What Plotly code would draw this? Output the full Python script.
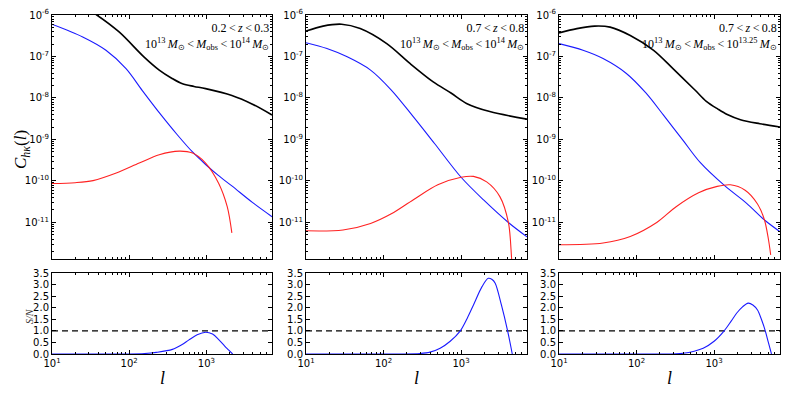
import plotly.graph_objects as go

# ---------------- data ----------------
# Panel 1: 0.2<z<0.3, 1e13<M<1e14
p1_black_l = [25, 38, 74, 155, 245, 355, 490, 692, 977, 2140, 3890, 7080]
p1_black_c = [1.6e-6, 1.0e-6, 3.9e-7, 9.8e-8, 4.7e-8, 3.0e-8, 2.2e-8, 1.9e-8, 1.68e-8, 1.15e-8, 7.2e-9, 3.9e-9]
p1_blue_l = [10, 25, 50, 91, 148, 251, 417, 661, 977, 1413, 2138, 3981, 7080]
p1_blue_c = [6.0e-7, 2.95e-7, 1.41e-7, 5.1e-8, 1.51e-8, 4.2e-9, 1.32e-9, 5.0e-10, 2.5e-10, 1.38e-10, 7.6e-11, 3.0e-11, 1.38e-11]
p1_red_l = [10, 20, 34, 68, 135, 245, 447, 661, 977, 1445, 1862, 2138]
p1_red_c = [8.7e-11, 9.1e-11, 1.02e-10, 1.55e-10, 2.7e-10, 4.3e-10, 5.25e-10, 4.7e-10, 2.7e-10, 8.7e-11, 2.4e-11, 5.6e-12]
p1_sn_l = [10, 100, 158, 224, 363, 479, 589, 759, 977, 1202, 1445, 1738, 1950, 2188]
p1_sn_v = [0, 0.0, 0.02, 0.07, 0.2, 0.4, 0.6, 0.83, 0.94, 0.86, 0.62, 0.33, 0.17, 0]

# Panel 2: 0.7<z<0.8, 1e13<M<1e14
p2_black_l = [10, 16.6, 28.8, 50, 110, 219, 437, 741, 1175, 2344, 7080]
p2_black_c = [4.1e-7, 5.4e-7, 6.0e-7, 4.7e-7, 2.04e-7, 6.8e-8, 2.45e-8, 1.32e-8, 7.4e-9, 4.7e-9, 3.1e-9]
p2_blue_l = [10, 18.6, 34, 68, 126, 240, 457, 1000, 1950, 4074, 7080]
p2_blue_c = [2.14e-7, 1.55e-7, 9.8e-8, 4.7e-8, 1.55e-8, 3.6e-9, 7.9e-10, 1.23e-10, 3.5e-11, 1.0e-11, 4.5e-12]
p2_red_l = [10, 30, 68, 126, 240, 501, 1000, 1445, 2138, 3162, 4074, 4467, 4624]
p2_red_c = [6.3e-12, 6.6e-12, 9.5e-12, 1.62e-11, 3.5e-11, 8.1e-11, 1.23e-10, 1.29e-10, 9.5e-11, 4.2e-11, 1.0e-11, 1.5e-12, 5.0e-13]
p2_sn_l = [10, 158, 295, 398, 537, 724, 977, 1202, 1445, 1862, 2239, 2512, 2754, 3311, 3981, 4571]
p2_sn_v = [0, 0, 0.02, 0.08, 0.25, 0.55, 1.0, 1.55, 2.12, 2.91, 3.27, 3.22, 3.06, 2.12, 1.0, 0]

# Panel 3: 0.7<z<0.8, 1e13<M<1e13.25
p3_black_l = [10, 17, 28.8, 45.7, 83, 166, 295, 562, 794, 1122, 1479, 2188, 3890, 7080]
p3_black_c = [3.7e-7, 4.7e-7, 5.4e-7, 5.1e-7, 3.2e-7, 1.41e-7, 5.1e-8, 1.58e-8, 8.3e-9, 5.4e-9, 4.0e-9, 3.0e-9, 2.4e-9, 2.0e-9]
p3_blue_l = [10, 20.4, 37, 74, 132, 224, 398, 661, 1380, 2630, 4467, 7080]
p3_blue_c = [2.04e-7, 1.41e-7, 8.9e-8, 3.9e-8, 1.32e-8, 3.8e-9, 9.5e-10, 2.8e-10, 7.6e-11, 2.9e-11, 1.15e-11, 6.0e-12]
p3_red_l = [10, 37, 83, 182, 324, 631, 1096, 1622, 2512, 3631, 4467, 5012, 5370]
p3_red_c = [2.9e-12, 3.2e-12, 4.6e-12, 1.0e-11, 2.4e-11, 5.2e-11, 7.4e-11, 8.1e-11, 6.0e-11, 2.8e-11, 1.15e-11, 4.0e-12, 1.66e-12]
p3_sn_l = [10, 158, 398, 724, 1000, 1349, 1660, 1950, 2344, 2754, 3162, 3631, 4074, 4571, 5012, 5495]
p3_sn_v = [0, 0, 0.03, 0.25, 0.55, 1.0, 1.42, 1.76, 2.05, 2.2, 2.12, 1.9, 1.5, 1.0, 0.5, 0]

TS = "\u2009"  # thin space, mimics mathtext spacing
panel_labels = [
    f"0.2{TS}&lt;{TS}<i>z</i>{TS}&lt;{TS}0.3<br>10<sup>13</sup>{TS}<i>M</i><sub>⊙</sub>{TS}&lt;{TS}<i>M</i><sub>obs</sub>{TS}&lt;{TS}10<sup>14</sup>{TS}<i>M</i><sub>⊙</sub>",
    f"0.7{TS}&lt;{TS}<i>z</i>{TS}&lt;{TS}0.8<br>10<sup>13</sup>{TS}<i>M</i><sub>⊙</sub>{TS}&lt;{TS}<i>M</i><sub>obs</sub>{TS}&lt;{TS}10<sup>14</sup>{TS}<i>M</i><sub>⊙</sub>",
    f"0.7{TS}&lt;{TS}<i>z</i>{TS}&lt;{TS}0.8<br>10<sup>13</sup>{TS}<i>M</i><sub>⊙</sub>{TS}&lt;{TS}<i>M</i><sub>obs</sub>{TS}&lt;{TS}10<sup>13.25</sup>{TS}<i>M</i><sub>⊙</sub>",
]
y_tick_vals = [1e-6, 1e-7, 1e-8, 1e-9, 1e-10, 1e-11]
y_tick_text = ["10<sup>-6</sup>", "10<sup>-7</sup>", "10<sup>-8</sup>", "10<sup>-9</sup>",
               "10<sup>-10</sup>", "10<sup>-11</sup>"]
x_tick_vals = [10, 100, 1000]
x_tick_text = ["10<sup>1</sup>", "10<sup>2</sup>", "10<sup>3</sup>"]
sn_tick_vals = [0, 0.5, 1.0, 1.5, 2.0, 2.5, 3.0, 3.5]
sn_tick_text = ["0.0", "0.5", "1.0", "1.5", "2.0", "2.5", "3.0", "3.5"]

# ---------------- figure ----------------
W, H = 789, 395
x_doms = [(52, 272), (306, 527), (559, 780)]
top_dom = (1 - 259 / H, 1 - 15 / H)
bot_dom = (1 - 354 / H, 1 - 273 / H)

x_minor = [m * 10 ** k for k in range(1, 4) for m in range(2, 10)]
y_minor = [m * 10.0 ** k for k in range(-12, -6) for m in range(2, 10)]

fig = go.Figure()

panels = [
    (p1_black_l, p1_black_c, p1_blue_l, p1_blue_c, p1_red_l, p1_red_c, p1_sn_l, p1_sn_v),
    (p2_black_l, p2_black_c, p2_blue_l, p2_blue_c, p2_red_l, p2_red_c, p2_sn_l, p2_sn_v),
    (p3_black_l, p3_black_c, p3_blue_l, p3_blue_c, p3_red_l, p3_red_c, p3_sn_l, p3_sn_v),
]

tick_font = dict(family="DejaVu Sans", size=10, color="black")
common_axis = dict(showline=True, linecolor="black", linewidth=1, mirror="ticks",
                   ticks="inside", ticklen=4, tickcolor="black", showgrid=False,
                   zeroline=False, tickfont=tick_font, automargin=False)

BLUE = "#1a1aff"
RED = "#ff2222"

for i, (bl, bc, ul, uc, rl, rc, sl, sv) in enumerate(panels):
    t = i + 1          # top axes index
    b = i + 4          # bottom axes index
    xt = "x" if t == 1 else f"x{t}"
    yt = "y" if t == 1 else f"y{t}"
    xb = f"x{b}"
    yb = f"y{b}"
    line_kw = dict(shape="spline", smoothing=0.9)
    fig.add_trace(go.Scatter(x=bl, y=bc, mode="lines", xaxis=xt, yaxis=yt,
                             line=dict(color="black", width=1.6, **line_kw), showlegend=False))
    fig.add_trace(go.Scatter(x=ul, y=uc, mode="lines", xaxis=xt, yaxis=yt,
                             line=dict(color=BLUE, width=1.1, **line_kw), showlegend=False))
    fig.add_trace(go.Scatter(x=rl, y=rc, mode="lines", xaxis=xt, yaxis=yt,
                             line=dict(color=RED, width=1.1, **line_kw), showlegend=False))
    fig.add_trace(go.Scatter(x=[10, 7080], y=[1, 1], mode="lines", xaxis=xb, yaxis=yb,
                             line=dict(color="black", width=1.1, dash="6px,4px"), showlegend=False))
    fig.add_trace(go.Scatter(x=sl, y=sv, mode="lines", xaxis=xb, yaxis=yb,
                             line=dict(color=BLUE, width=1.1, **line_kw), showlegend=False))

    xd = (x_doms[i][0] / W, x_doms[i][1] / W)
    xkey_t = "xaxis" if t == 1 else f"xaxis{t}"
    ykey_t = "yaxis" if t == 1 else f"yaxis{t}"
    fig.update_layout(**{
        xkey_t: dict(type="log", range=[1, 3.85], domain=xd, anchor=yt,
                     tickvals=x_tick_vals, ticktext=["", "", ""],
                     minor=dict(tickvals=x_minor, ticks="inside", ticklen=2, tickcolor="black"),
                     **common_axis),
        ykey_t: dict(type="log", range=[-11.88, -6], domain=top_dom, anchor=xt,
                     tickvals=y_tick_vals, ticktext=y_tick_text,
                     minor=dict(tickvals=y_minor, ticks="inside", ticklen=2, tickcolor="black"),
                     **common_axis),
        f"xaxis{b}": dict(type="log", range=[1, 3.85], domain=xd, anchor=yb,
                          tickvals=x_tick_vals, ticktext=x_tick_text,
                          minor=dict(tickvals=x_minor, ticks="inside", ticklen=2, tickcolor="black"),
                          **common_axis),
        f"yaxis{b}": dict(range=[0, 3.5], domain=bot_dom, anchor=xb,
                          tickvals=sn_tick_vals, ticktext=sn_tick_text,
                          **common_axis),
    })
    # panel label
    fig.add_annotation(text=panel_labels[i], xref=f"{xt} domain", yref=f"{yt} domain",
                       x=0.995, y=0.985, xanchor="right", yanchor="top", align="right",
                       showarrow=False,
                       font=dict(family="Liberation Serif", size=12, color="black"))
    # x label
    fig.add_annotation(text="<i>l</i>", xref=f"{xb} domain", yref="paper",
                       x=0.5, y=1 - 378 / H, xanchor="center", yanchor="middle",
                       showarrow=False,
                       font=dict(family="Liberation Serif", size=18, color="black"))

fig.add_annotation(text="<i>C</i><sub><i>hκ</i></sub>(<i>l</i>)", xref="paper", yref="paper",
                   x=22 / W, y=1 - 150 / H, xanchor="center", yanchor="middle",
                   textangle=-90, showarrow=False,
                   font=dict(family="Liberation Serif", size=17, color="black"))
fig.add_annotation(text="<i>S/N</i>", xref="paper", yref="paper",
                   x=29 / W, y=1 - 316 / H, xanchor="center", yanchor="middle",
                   textangle=-90, showarrow=False,
                   font=dict(family="Liberation Serif", size=10, color="#333333"))

fig.update_layout(width=W, height=H, autosize=False, margin=dict(l=0, r=0, t=0, b=0, pad=0),
                  paper_bgcolor="white", plot_bgcolor="white")

fig.write_html("out.html", config={"displayModeBar": False},
               post_script="document.body.style.margin='0px';")
